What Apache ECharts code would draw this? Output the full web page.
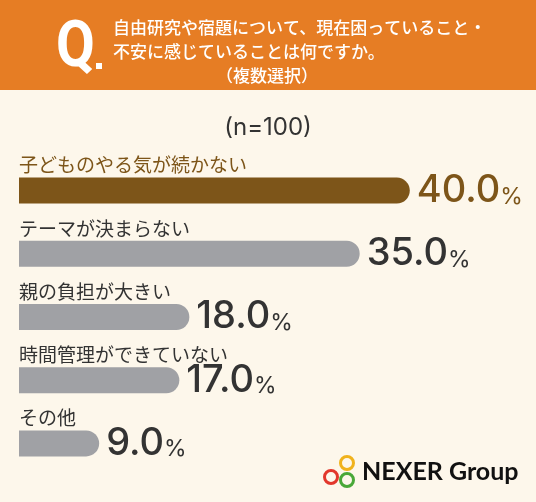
<!DOCTYPE html>
<html lang="ja">
<head>
    <meta charset="UTF-8">
    <title>自由研究や宿題の困りごと</title>
</head>
<style>
    * {
        margin: 0;
        padding: 0;
    }

    html, body {
        width: 536px;
        height: 502px;
        background: #fdf7eb;
    }

    #chart {
        width: 536px;
        height: 502px;
    }
</style>
<script src="https://cdn.jsdelivr.net/npm/echarts@6/dist/echarts.min.js"></script>
<body>
<div id="chart"></div>
</body>
<script>
  // answers, top to bottom
  const categories = ['子どものやる気が続かない', 'テーマが決まらない', '親の負担が大きい', '時間管理ができていない', 'その他']
  const percents = [40.0, 35.0, 18.0, 17.0, 9.0]

  const questionLines = ['自由研究や宿題について、現在困っていること・', '不安に感じていることは何ですか。']
  const questionNote = '（複数選択）'
  const sampleNote = '(n=100)'

  const JP = '"Noto Sans CJK JP", sans-serif'
  const NUM = 'Inter, "Noto Sans", sans-serif'
  const brown = '#7d5519'
  const gray = '#a0a1a5'
  const dark = '#333333'

  const chart = echarts.init(document.getElementById('chart'))

  chart.setOption({
    backgroundColor: '#fdf7eb',
    animation: false,
    grid: {
      left: 19,
      right: 26,
      top: 159,
      bottom: 27
    },
    xAxis: {
      type: 'value',
      min: 1,
      max: 50,
      show: false
    },
    yAxis: {
      type: 'category',
      inverse: true,
      data: categories,
      axisLine: {show: false},
      axisTick: {show: false},
      axisLabel: {
        inside: true,
        interval: 0,
        margin: 0,
        align: 'left',
        verticalAlign: 'bottom',
        padding: [0, 0, 16, 0],
        fontFamily: JP,
        fontSize: 19,
        color: (value, index) => index === 0 ? brown : dark
      }
    },
    series: [{
      type: 'bar',
      barWidth: 26,
      data: percents.map((v, i) => ({
        value: v,
        itemStyle: {color: i === 0 ? brown : gray},
        label: {color: i === 0 ? brown : dark}
      })),
      itemStyle: {
        borderRadius: [0, 13, 13, 0]
      },
      label: {
        show: true,
        position: 'right',
        distance: 7,
        formatter: p => '{v|' + p.value.toFixed(1) + '}{p|%}',
        rich: {
          v: {
            fontFamily: NUM,
            fontSize: 38,
            fontWeight: 500
          },
          p: {
            fontFamily: NUM,
            fontSize: 23,
            fontWeight: 400,
            padding: [12, 0, 0, 0]
          }
        }
      }
    }],
    graphic: [
      {
        type: 'rect',
        shape: {x: 0, y: 0, width: 536, height: 90},
        style: {fill: '#e67d24'}
      },
      {
        type: 'text',
        x: 56, y: 18,
        scaleX: 0.88,
        style: {text: 'Q', fill: '#fff', font: 'bold 64px Roboto, sans-serif'}
      },
      {
        type: 'rect',
        shape: {x: 96, y: 63, width: 6, height: 6},
        style: {fill: '#fff'}
      },
      {
        type: 'text',
        x: 113, y: 40,
        style: {
          text: questionLines.join('\n'),
          fill: '#fff',
          font: '500 17px ' + JP,
          lineHeight: 24,
          verticalAlign: 'middle'
        }
      },
      {
        type: 'text',
        x: 267, y: 76,
        style: {
          text: questionNote,
          fill: '#fff',
          font: '500 17px ' + JP,
          align: 'center',
          verticalAlign: 'middle'
        }
      },
      {
        type: 'text',
        x: 268, y: 128,
        style: {
          text: sampleNote,
          fill: dark,
          font: '24px ' + NUM,
          align: 'center',
          verticalAlign: 'middle'
        }
      },
      // NEXER Group logo
      {
        type: 'circle',
        shape: {cx: 347, cy: 463, r: 6.5},
        style: {fill: 'none', stroke: '#f0b21c', lineWidth: 3}
      },
      {
        type: 'circle',
        shape: {cx: 331, cy: 477, r: 6.5},
        style: {fill: 'none', stroke: '#e2372c', lineWidth: 3}
      },
      {
        type: 'circle',
        shape: {cx: 347, cy: 480, r: 6.5},
        style: {fill: 'none', stroke: '#49a838', lineWidth: 3}
      },
      {
        type: 'text',
        x: 362, y: 472,
        style: {
          text: 'NEXER Group',
          fill: '#111',
          font: 'bold 25px Lato, sans-serif',
          verticalAlign: 'middle'
        }
      }
    ]
  })
</script>
</html>
